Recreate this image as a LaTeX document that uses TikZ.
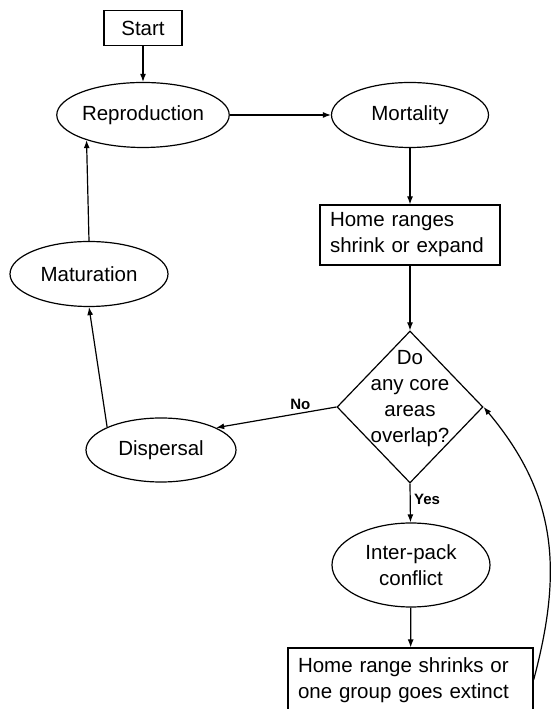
\documentclass[tikz,border=0pt]{standalone}
\usepackage{fontspec}
\setmainfont{Liberation Sans}
\usetikzlibrary{shapes.geometric,arrows.meta}

\begin{document}
\begin{tikzpicture}[x=1pt, y=1pt, line width=1.2pt,
		every node/.style={font=\fontsize{20.5}{26}\selectfont},
		stage/.style={draw, ellipse, inner sep=0pt, minimum width=157pt, minimum height=65pt, align=center},
		stepbox/.style={draw, rectangle, inner xsep=10pt, inner ysep=0pt, align=left},
		decision/.style={draw, diamond, inner sep=0pt, minimum width=146pt, minimum height=152pt},
		answer/.style={font=\fontsize{15}{18}\selectfont\bfseries},
		arrow/.style={-{Latex[length=8pt,width=6pt]}}]
		\useasboundingbox (0,0) rectangle (550,709);

		% the life cycle on the left
		\node [draw, rectangle, minimum width=78pt, minimum height=35pt, inner sep=0pt] (start) at (143,681) {Start};
		\node [stage] (repro) at (143,594) {Reproduction};
		\node [stage] (mortal) at (410,594) {Mortality};
		\node [stage, minimum width=158pt] (mature) at (89,435) {Maturation};
		\node [stage, minimum width=150pt, minimum height=64pt] (disperse) at (161,259) {Dispersal};

		% territory check on the right
		\node [stepbox, text width=160pt, minimum height=60pt] (ranges) at (410,474) {Home ranges\\shrink or expand};
		\node [decision, label={[align=center, yshift=8pt]center:{Do\\any core\\areas\\overlap?}}] (overlap) at (410,302) {};
		\node [stage, minimum width=158pt, minimum height=84pt] (conflict) at (411,144) {Inter-pack\\conflict};
		\node [stepbox, text width=225pt, minimum height=64pt] (result) at (410.5,29) {Home range shrinks or\\one group goes extinct};

		\draw [arrow] (start) -- (repro);
		\draw [arrow] (repro) -- (mortal);
		\draw [arrow] (mortal) -- (ranges);
		\draw [arrow] (ranges) -- (overlap);
		\draw [arrow] (overlap.west) -- node [answer, above, pos=0.3] {No} (disperse.22);
		\draw [arrow] (disperse.157) -- (mature.south);
		\draw [arrow] (mature.north) -- (repro.204);
		\draw [arrow] (overlap.south) -- node [answer, right, pos=0.4] {Yes} (conflict);
		\draw [arrow] (conflict) -- (result);
		\draw [arrow] (result.east) to [out=75, in=-50, looseness=1.05] (overlap.east);
	\end{tikzpicture}
\end{document}
